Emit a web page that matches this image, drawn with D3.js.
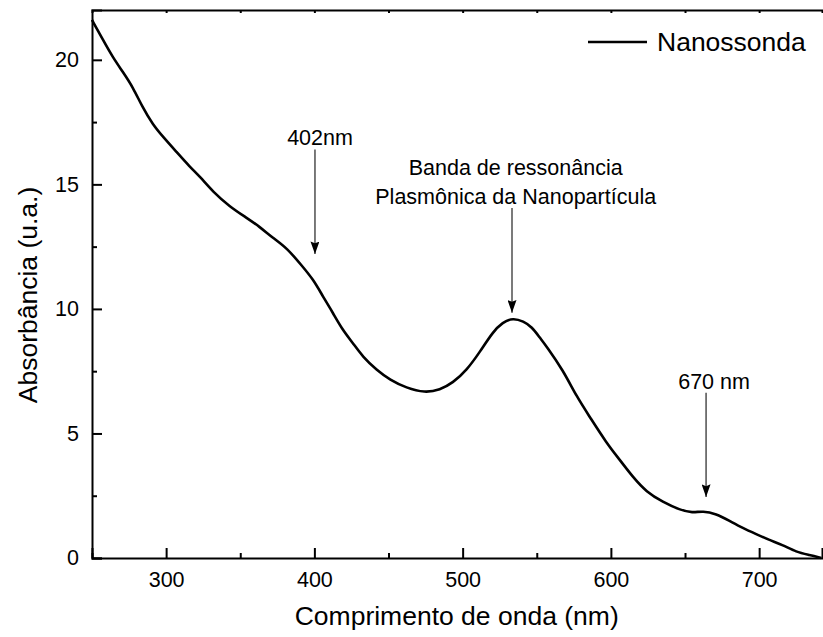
<!DOCTYPE html>
<html>
<head>
<meta charset="utf-8">
<script src="https://cdn.jsdelivr.net/npm/d3@7"></script>
<style>
  body { margin: 0; background: #fff; }
  text { font-family: "Liberation Sans", Arial, sans-serif; fill: #000; }
</style>
</head>
<body>
<script>
// Spectrum: wavelength (nm) and absorbance (u.a.)
var wavelength = [250, 257.4, 264, 271, 277.6, 284, 291, 298, 307, 316, 323, 331.6, 343, 354.5, 363, 372, 381.5,
    392, 399, 405.8, 412.5, 419, 426, 432.7, 442, 451, 462, 474.5, 484.7, 493.4, 502.9, 511.6, 520.4, 527,
    534, 541, 546.7, 552, 556.7, 567.6, 577, 585.8, 597, 606, 614.8, 624, 635, 646.6, 655, 662, 671, 680,
    689, 698, 707, 716, 725, 734, 742];
var absorbance = [21.6, 20.8, 20.1, 19.5, 18.9, 18.1, 17.4, 16.9, 16.3, 15.7, 15.3, 14.7, 14.1, 13.65, 13.3, 12.85, 12.45,
    11.7, 11.2, 10.5, 9.84, 9.16, 8.63, 8.07, 7.55, 7.15, 6.83, 6.63, 6.75, 7.03, 7.55, 8.27, 9.08, 9.46,
    9.64, 9.5, 9.28, 8.85, 8.49, 7.55, 6.47, 5.66, 4.62, 3.94, 3.25, 2.65, 2.25, 1.93, 1.81, 1.89, 1.77, 1.49,
    1.2, 0.96, 0.72, 0.52, 0.24, 0.12, 0.0];

var xTicks = [300, 400, 500, 600, 700];
var yTicks = [0, 5, 10, 15, 20];
var seriesName = "Nanossonda";

// Annotations: arrow at wavelength x, from yTop down to yTip (absorbance units)
var notes = [
    { lines: ["402nm"], x: 400.4, textX: 403.8, yTop: 16.4, yTip: 12.2 },
    { lines: ["Banda de ressonância", "Plasmônica da Nanopartícula"], x: 533.3, textX: 535.8, yTop: 14.05, yTip: 9.85 },
    { lines: ["670 nm"], x: 664.2, textX: 669.6, yTop: 6.63, yTip: 2.45 }
];

var data = wavelength.map(function(w, i) { return { w: w, a: absorbance[i] }; });

var svgWidth = 823, svgHeight = 637;
var margin = { top: 10, right: 1, bottom: 79, left: 92 };
var width = svgWidth - margin.left - margin.right;
var height = svgHeight - margin.top - margin.bottom;

var svg = d3.select("body").append("svg")
    .attr("width", svgWidth)
    .attr("height", svgHeight);

var g = svg.append("g")
    .attr("transform", "translate(" + margin.left + "," + margin.top + ")");

var x = d3.scaleLinear().domain([250, 742.4]).range([0, width]);
var y = d3.scaleLinear().domain([0, 22]).range([height, 0]);

// arrow head (points along the line direction)
svg.append("defs").append("marker")
    .attr("id", "head")
    .attr("viewBox", "0 0 14 10")
    .attr("refX", 14).attr("refY", 5)
    .attr("markerWidth", 14).attr("markerHeight", 9)
    .attr("markerUnits", "userSpaceOnUse")
    .attr("orient", "auto")
  .append("path")
    .attr("d", "M0,0 L14,5 L0,10 L2,5 Z")
    .attr("fill", "#000");

// minor ticks
var xMinor = d3.range(250, 743, 50).filter(function(v) { return v % 100 !== 0; });
var yMinor = [2.5, 7.5, 12.5, 17.5];

// bottom axis
var xAxis = g.append("g")
    .attr("transform", "translate(0," + height + ")")
    .call(d3.axisBottom(x).tickValues(xTicks).tickSize(-10).tickPadding(0).tickFormat(d3.format("d")));
xAxis.selectAll("text").attr("y", 29).attr("dy", 0).style("font-size", "21.5px");
g.append("g")
    .attr("transform", "translate(0," + height + ")")
    .call(d3.axisBottom(x).tickValues(xMinor).tickSize(-5).tickFormat(""))
    .select(".domain").remove();

// top axis (small inner ticks only)
g.append("g")
    .call(d3.axisTop(x).tickValues(d3.range(300, 743, 50)).tickSize(-3).tickFormat(""));

// left axis
var yAxis = g.append("g")
    .call(d3.axisLeft(y).tickValues(yTicks).tickSize(-10).tickPadding(13));
yAxis.selectAll("text").style("font-size", "21.5px");
g.append("g")
    .call(d3.axisLeft(y).tickValues(yMinor).tickSize(-5).tickFormat(""))
    .select(".domain").remove();

g.selectAll(".domain").attr("stroke", "#000").attr("stroke-width", 2);
g.selectAll(".tick line").attr("stroke", "#000").attr("stroke-width", 2);

// spectrum
var line = d3.line()
    .x(function(d) { return x(d.w); })
    .y(function(d) { return y(d.a); })
    .curve(d3.curveBasis);

g.append("path")
    .datum(data)
    .attr("d", line)
    .attr("fill", "none")
    .attr("stroke", "#000")
    .attr("stroke-width", 2.6)
    .attr("stroke-linejoin", "round");

// annotations
notes.forEach(function(n) {
    g.append("line")
        .attr("x1", x(n.x)).attr("x2", x(n.x))
        .attr("y1", y(n.yTop)).attr("y2", y(n.yTip))
        .attr("stroke", "#333")
        .attr("stroke-width", 1.3)
        .attr("marker-end", "url(#head)");
    var top = y(n.yTop) - 4 - (n.lines.length - 1) * 29;
    n.lines.forEach(function(t, i) {
        g.append("text")
            .attr("x", x(n.textX))
            .attr("y", top + i * 29)
            .attr("text-anchor", "middle")
            .style("font-size", "21.5px")
            .text(t);
    });
});

// legend
var legend = svg.append("g").attr("transform", "translate(588,42)");
legend.append("line")
    .attr("x1", 0).attr("x2", 59)
    .attr("stroke", "#000").attr("stroke-width", 2.6);
legend.append("text")
    .attr("x", 69).attr("y", 9)
    .style("font-size", "26.5px")
    .text(seriesName);

// axis titles
svg.append("text")
    .attr("x", margin.left + x(496))
    .attr("y", 625)
    .attr("text-anchor", "middle")
    .style("font-size", "26.5px")
    .text("Comprimento de onda (nm)");

svg.append("text")
    .attr("transform", "translate(37,295) rotate(-90)")
    .attr("text-anchor", "middle")
    .style("font-size", "26.5px")
    .text("Absorbância (u.a.)");
</script>
</body>
</html>
